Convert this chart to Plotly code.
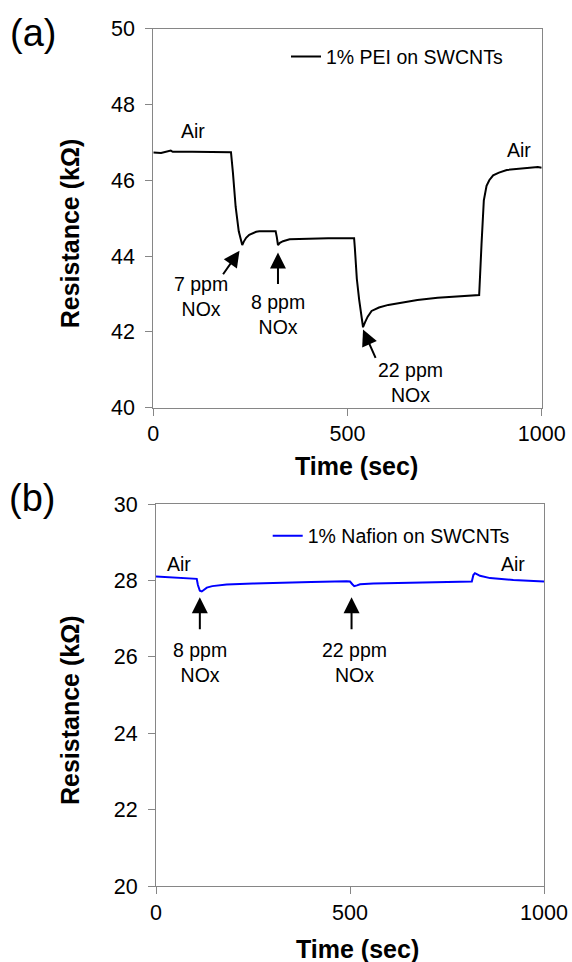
import plotly.graph_objects as go

# ---------------- data ----------------
# Panel (a): 1% PEI on SWCNTs
time_a = [0, 20, 45, 50, 100, 150, 200, 205, 212, 220, 226, 229, 233, 239, 247, 256, 265, 273,
          315, 318, 321, 326, 334, 351, 400, 450, 514, 517, 519, 524, 530, 536, 540, 545, 552,
          562, 581, 605, 637, 680, 732, 785, 839, 845, 851, 858, 865, 875, 890, 910, 930, 953,
          975, 990, 1000]
res_a = [46.73, 46.72, 46.78, 46.75, 46.75, 46.75, 46.74, 46.2, 45.3, 44.65, 44.38, 44.29, 44.38,
         44.48, 44.56, 44.61, 44.64, 44.65, 44.65, 44.5, 44.29, 44.35, 44.39, 44.44, 44.46, 44.47,
         44.47, 44.47, 44.2, 43.4, 42.85, 42.45, 42.12, 42.25, 42.4, 42.55, 42.64, 42.71, 42.77,
         42.84, 42.90, 42.94, 42.97, 44.3, 45.47, 45.85, 46.0, 46.13, 46.2, 46.27, 46.29, 46.32,
         46.33, 46.35, 46.33]

# Panel (b): 1% Nafion on SWCNTs
time_b = [0, 50, 100, 105, 108, 113, 118, 124, 131, 145, 182, 250, 302, 400, 491, 500, 506, 511,
          518, 526, 560, 650, 732, 814, 818, 822, 828, 835, 861, 887, 921, 960, 1000]
res_b = [28.10, 28.08, 28.06, 28.04, 27.88, 27.73, 27.71, 27.76, 27.81, 27.85, 27.89, 27.92, 27.94,
         27.96, 27.98, 27.97, 27.90, 27.85, 27.87, 27.90, 27.92, 27.94, 27.95, 27.97, 28.14, 28.19,
         28.16, 28.12, 28.06, 28.03, 28.01, 27.99, 27.97]

name_a = "1% PEI on SWCNTs"
name_b = "1% Nafion on SWCNTs"

xticks = [0, 500, 1000]
yticks_a = [40, 42, 44, 46, 48, 50]
yticks_b = [20, 22, 24, 26, 28, 30]

# annotations: (label, text_x, text_y, arrow_tip_x, arrow_tip_y, arrow_tail_x, arrow_tail_y)
gas_a = [
    ("7 ppm<br>NOx", 124, 42.93, 222, 44.14, 177, 43.48),
    ("8 ppm<br>NOx", 321, 42.45, 321, 44.09, 321, 43.22),
    ("22 ppm<br>NOx", 662, 40.67, 540, 42.06, 574, 41.27),
]
gas_b = [
    ("8 ppm<br>NOx", 113, 25.86, 113, 27.56, 113, 26.68),
    ("22 ppm<br>NOx", 511, 25.86, 504, 27.56, 504, 26.68),
]
air_a = [(101, 47.30), (942, 46.81)]
air_b = [(59, 28.43), (919, 28.43)]

# ---------------- figure ----------------
W, H = 572, 962
FONT = "Liberation Sans, Arial, sans-serif"
AXC = "#868686"


def px(x):
    return x / W


def py(y):
    return 1 - y / H


fig = go.Figure()
fig.add_trace(go.Scatter(x=time_a, y=res_a, mode="lines", name=name_a,
                         line=dict(color="black", width=2), xaxis="x", yaxis="y",
                         legend="legend"))
fig.add_trace(go.Scatter(x=time_b, y=res_b, mode="lines", name=name_b,
                         line=dict(color="#0000FF", width=2), xaxis="x2", yaxis="y2",
                         legend="legend2"))

axis_common = dict(showgrid=False, zeroline=False, showline=True, mirror=True,
                   linecolor=AXC, linewidth=1, ticks="outside", ticklen=7,
                   tickcolor=AXC, tickwidth=1, automargin=False,
                   tickfont=dict(family=FONT, size=21.5, color="black"))

fig.update_layout(
    width=W, height=H, margin=dict(l=0, r=0, t=0, b=0, autoexpand=False),
    paper_bgcolor="white", plot_bgcolor="white",
    font=dict(family=FONT, color="black"),
    xaxis=dict(domain=[px(153.3), px(541.7)], range=[0, 1000], tickvals=xticks,
               anchor="y", **axis_common),
    yaxis=dict(domain=[py(407.6), py(28.6)], range=[40, 50], tickvals=yticks_a,
               anchor="x", ticklabelstandoff=6, **axis_common),
    xaxis2=dict(domain=[px(156), px(544)], range=[0, 1000], tickvals=xticks,
                anchor="y2", **axis_common),
    yaxis2=dict(domain=[py(886), py(504)], range=[20, 30], tickvals=yticks_b,
                anchor="x2", ticklabelstandoff=6, **axis_common),
    legend=dict(x=px(286), y=py(56.7), xanchor="left", yanchor="middle",
                bgcolor="rgba(0,0,0,0)", borderwidth=0, itemwidth=30,
                font=dict(family=FONT, size=19.5, color="black")),
    legend2=dict(x=px(267.7), y=py(536), xanchor="left", yanchor="middle",
                 bgcolor="rgba(0,0,0,0)", borderwidth=0, itemwidth=30,
                 font=dict(family=FONT, size=19.5, color="black")),
    showlegend=True,
)

ann = []
C = dict(xanchor="center", yanchor="middle", xref="paper", yref="paper", showarrow=False)
# panel labels
ann.append(dict(text="(a)", x=px(33), y=py(33), font=dict(size=38, family=FONT), **C))
ann.append(dict(text="(b)", x=px(32), y=py(498), font=dict(size=38, family=FONT), **C))
# axis titles
for (xc, yc) in [(356.7, 466), (357, 949)]:
    ann.append(dict(text="<b>Time (sec)</b>", x=px(xc), y=py(yc),
                    font=dict(size=25, family=FONT), **C))
for (xc, yc) in [(70, 233.3), (70, 710)]:
    ann.append(dict(text="<b>Resistance (kΩ)</b>", x=px(xc), y=py(yc), textangle=-90,
                    font=dict(size=25, family=FONT), **C))

for panel, gases, airs in [(("x", "y"), gas_a, air_a), (("x2", "y2"), gas_b, air_b)]:
    xr, yr = panel
    for (lab, tx, ty, hx, hy, ax_, ay_) in gases:
        ann.append(dict(text=lab, x=tx, y=ty, xref=xr, yref=yr, showarrow=False,
                        xanchor="center", yanchor="middle",
                        font=dict(size=19.5, family=FONT)))
        ann.append(dict(text="", x=hx, y=hy, xref=xr, yref=yr, ax=ax_, ay=ay_,
                        axref=xr, ayref=yr, showarrow=True, arrowhead=2,
                        arrowsize=1.6, arrowwidth=2, arrowcolor="black"))
    for (tx, ty) in airs:
        ann.append(dict(text="Air", x=tx, y=ty, xref=xr, yref=yr, showarrow=False,
                        xanchor="center", yanchor="middle",
                        font=dict(size=19.5, family=FONT)))

fig.update_layout(annotations=ann)
fig.write_html("out.html")
